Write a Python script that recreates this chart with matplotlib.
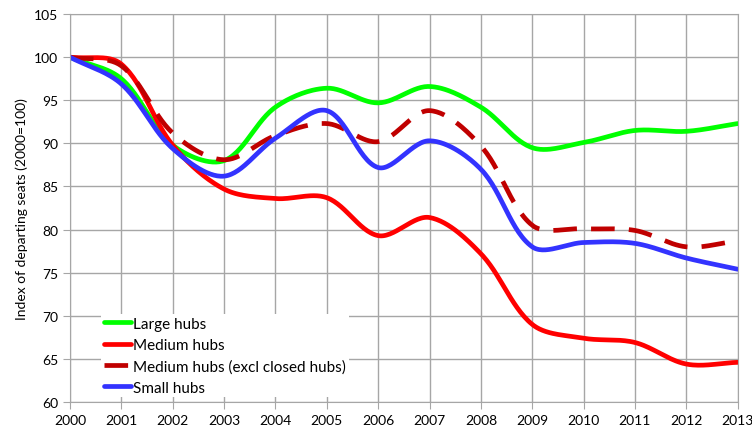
import numpy as np
import matplotlib
matplotlib.use("Agg")
import matplotlib.pyplot as plt

years = np.arange(2000, 2014)

large = [100, 97.5, 89.8, 88.0, 94.2, 96.4, 94.7, 96.6, 94.2, 89.5, 90.1, 91.5, 91.4, 92.3]
medium = [100, 99.2, 89.8, 84.7, 83.6, 83.7, 79.3, 81.4, 77.2, 69.0, 67.4, 66.9, 64.4, 64.6]
medium_excl = [100, 99.0, 91.2, 88.1, 90.9, 92.3, 90.2, 93.8, 89.7, 80.5, 80.1, 79.9, 78.0, 78.7]
small = [100, 96.9, 89.4, 86.2, 90.6, 93.8, 87.2, 90.3, 87.0, 78.0, 78.5, 78.4, 76.7, 75.4]

labels = ["Large hubs", "Medium hubs", "Medium hubs (excl closed hubs)", "Small hubs"]

# rough px per unit in the chart, used so the smoothing acts like excel's
SX, SY = 51.4, 8.62


def smooth(x, y, n=30):
    # excel-style smoothed line: bezier through the points, arms scaled by chord length
    p = np.column_stack([np.asarray(x) * SX, np.asarray(y) * SY]).astype(float)
    p = np.vstack([p[0], p, p[-1]])
    t = np.linspace(0, 1, n, endpoint=False)[:, None]
    out = []
    for i in range(1, len(p) - 2):
        p0, p1, p2, p3 = p[i - 1], p[i], p[i + 1], p[i + 2]
        d01 = np.hypot(*(p1 - p0))
        d12 = np.hypot(*(p2 - p1))
        d23 = np.hypot(*(p3 - p2))
        c1 = p1 + (p2 - p0) * d12 / (d01 + d12) / 3
        c2 = p2 - (p3 - p1) * d12 / (d12 + d23) / 3
        seg = (1 - t) ** 3 * p1 + 3 * (1 - t) ** 2 * t * c1 + 3 * (1 - t) * t ** 2 * c2 + t ** 3 * p2
        out.append(seg)
    out.append(p[-2][None, :])
    out = np.vstack(out)
    return out[:, 0] / SX, out[:, 1] / SY


plt.rcParams['font.family'] = ['Lato', 'DejaVu Sans']

fig = plt.figure(figsize=(7.52, 4.31), dpi=100)
ax = fig.add_axes([0.093, 0.065, 0.888, 0.9])

xs, ys = smooth(years, large)
ax.plot(xs, ys, color="#00FF00", lw=3.4, label=labels[0], solid_capstyle="round")
xs, ys = smooth(years, medium)
ax.plot(xs, ys, color="#FF0000", lw=3.4, label=labels[1], solid_capstyle="round")
xs, ys = smooth(years, medium_excl)
ax.plot(xs, ys, color="#C00000", lw=3.4, label=labels[2], dashes=(5, 3))
xs, ys = smooth(years, small)
ax.plot(xs, ys, color="#3333FF", lw=3.4, label=labels[3], solid_capstyle="round")

ax.set_xlim(2000, 2013)
ax.set_ylim(60, 105)
ax.set_xticks(years)
ax.set_yticks(np.arange(60, 106, 5))
ax.grid(True, color="#A6A6A6", lw=1)
ax.set_axisbelow(True)
for s in ax.spines.values():
    s.set_color("#A6A6A6")
ax.tick_params(axis="both", direction="out", length=5, color="#A6A6A6", labelsize=10, labelcolor="black")
ax.set_ylabel("Index of departing seats (2000=100)", fontsize=10)

leg = ax.legend(loc="lower left", bbox_to_anchor=(0.047, 0.013), fontsize=11, frameon=True,
                facecolor="white", edgecolor="none", framealpha=1, fancybox=False,
                handlelength=1.8, handletextpad=0.15, labelspacing=0.47, borderpad=0.15,
                borderaxespad=0.0)

fig.savefig("out.png", dpi=100)
